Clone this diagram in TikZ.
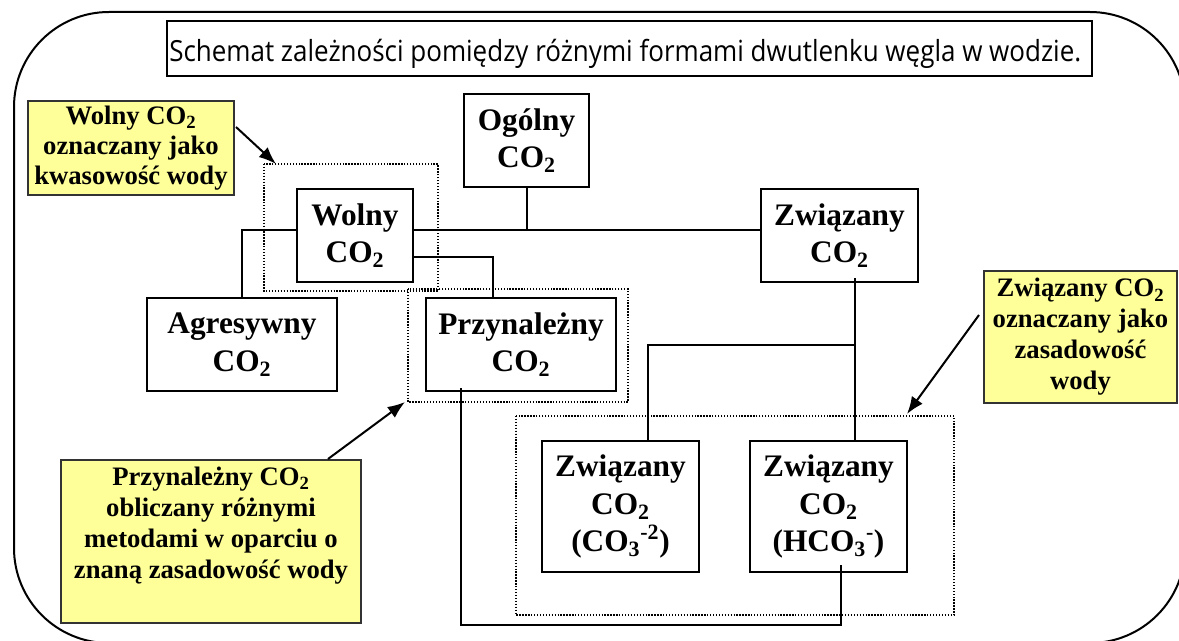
\documentclass[tikz,border=0pt]{standalone}
\usepackage{fontspec}
\usepackage{graphicx}
\setmainfont{Liberation Serif}
\newfontfamily\titlefont{Open Sans}
\usetikzlibrary{calc,arrows.meta}
\definecolor{yel}{RGB}{255,255,153}
\begin{document}
\begin{tikzpicture}[x=0.75pt,y=-0.75pt,
  frame/.style={draw=black, line width=1.5pt},
  titlebox/.style={draw=black, line width=1.5pt, fill=white, inner sep=0pt},
  mainbox/.style={draw=black, line width=2.2pt, fill=white, align=center, inner sep=0pt,
    font=\fontsize{23.5}{28.1}\selectfont\bfseries},
  ybox/.style={draw=black!80, line width=1.5pt, fill=yel, align=center, inner sep=0pt,
    font=\fontsize{20}{23.2}\selectfont\bfseries},
  ytext/.style={align=center, inner sep=0pt, font=\fontsize{20}{23.2}\selectfont\bfseries},
  dotbox/.style={draw=black, line width=1pt, dash pattern=on 1pt off 1.2pt},
  conn/.style={draw=black, line width=1.5pt},
  arr/.style={draw=black, line width=1.5pt, -{Latex[length=13pt,width=10pt]}}
]
\useasboundingbox (0,0) rectangle (1179,641);
\fill[white] (0,0) rectangle (1179,641);
\begin{scope}
\clip (0,0) rectangle (1179,641);
% outer frame
\draw[frame, rounded corners=71.25pt] (14,12) rectangle (1185,643);

% title
\node[titlebox, minimum width=693.75pt, minimum height=41.25pt] (title) at (629.5,48.5) {};
\node[anchor=base west, inner sep=0pt] (titletext) at (169,62)
  {\resizebox{684pt}{!}{\scalebox{1}[1.12]{\titlefont Schemat zależności pomiędzy różnymi formami dwutlenku węgla w wodzie.}}};

% dotted groups
\coordinate (d1nw) at (264,164); \coordinate (d1se) at (438,291);
\coordinate (d2nw) at (408,289); \coordinate (d2se) at (628,402);
\coordinate (d3nw) at (516,416); \coordinate (d3se) at (954,615);
\draw[dotbox] (d1nw) rectangle (d1se);
\draw[dotbox] (d2nw) rectangle (d2se);
\draw[dotbox] (d3nw) rectangle (d3se);

% main boxes
\node[mainbox, minimum width=93.75pt, minimum height=69.75pt] (ogolny) at (526.5,140.5) {Ogólny\\CO\textsubscript{2}};
\node[mainbox, minimum width=87pt, minimum height=69.75pt] (wolny) at (355,235.5) {Wolny\\CO\textsubscript{2}};
\node[mainbox, minimum width=117.75pt, minimum height=69.75pt] (zwiazany) at (839.5,235.5) {Związany\\CO\textsubscript{2}};
\node[mainbox, minimum width=142.5pt, minimum height=69.75pt] (agres) at (242,344.5) {Agresywny\\CO\textsubscript{2}};
\node[mainbox, minimum width=142.5pt, minimum height=69.75pt] (przyn) at (521,344.5) {Przynależny\\CO\textsubscript{2}};
\node[mainbox, minimum width=117.75pt, minimum height=98.25pt] (co3) at (620.5,506.5) {Związany\\CO\textsubscript{2}\\(CO\textsubscript{3}\textsuperscript{-2})};
\node[mainbox, minimum width=117.75pt, minimum height=98.25pt] (hco3) at (828.5,506.5) {Związany\\CO\textsubscript{2}\\(HCO\textsubscript{3}\textsuperscript{-})};

% connectors
\coordinate (j1) at (527,230);
\coordinate (j2) at (855,345);
\draw[conn] (ogolny.south) -- (ogolny.south |- j1);
\draw[conn] (wolny.east |- j1) -- (zwiazany.west |- j1);
\draw[conn] (wolny.west |- j1) -| (agres.north);
\draw[conn] ($(wolny.east)+(0,21.5)$) -| ($(przyn.north west)+(68,0)$);
\draw[conn] ($(zwiazany.south)+(15.5,-5)$) -- (j2) -- (j2 |- hco3.north);
\draw[conn] (j2) -| ($(co3.north west)+(107,0)$);
\draw[conn] ($(przyn.south west)+(36,-4)$) -- ++(0,237) -| ($(hco3.south west)+(92,-8)$);

% callouts
\node[ybox, minimum width=154.5pt, minimum height=70.5pt, font=\fontsize{20}{22.5}\selectfont\bfseries] (y1) at (131,148)
  {Wolny CO\textsubscript{2}\\oznaczany jako\\kwasowość wody};
\node[ybox, minimum width=144.75pt, minimum height=99pt] (y2) at (1080.5,337)
  {Związany CO\textsubscript{2}\\oznaczany jako\\zasadowość\\wody};
\node[ybox, minimum width=225pt, minimum height=122.25pt] (y3) at (211,541.5) {};
\node[ytext, anchor=north] (y3text) at ($(y3.north)+(0,8)$)
  {Przynależny CO\textsubscript{2}\\obliczany różnymi\\metodami w oparciu o\\znaną zasadowość wody};

% arrows
\draw[arr] ($(y1.east)+(1,-21)$) -- ($(d1nw)+(12,0)$);
\draw[arr] ($(y2.west)+(-4,-22)$) -- ($(d3nw -| d3se)+(-47,-2)$);
\draw[arr] ($(y3.north)+(117,0)$) -- ($(d2nw |- d2se)+(-3,0)$);
\end{scope}
\end{tikzpicture}
\end{document}
